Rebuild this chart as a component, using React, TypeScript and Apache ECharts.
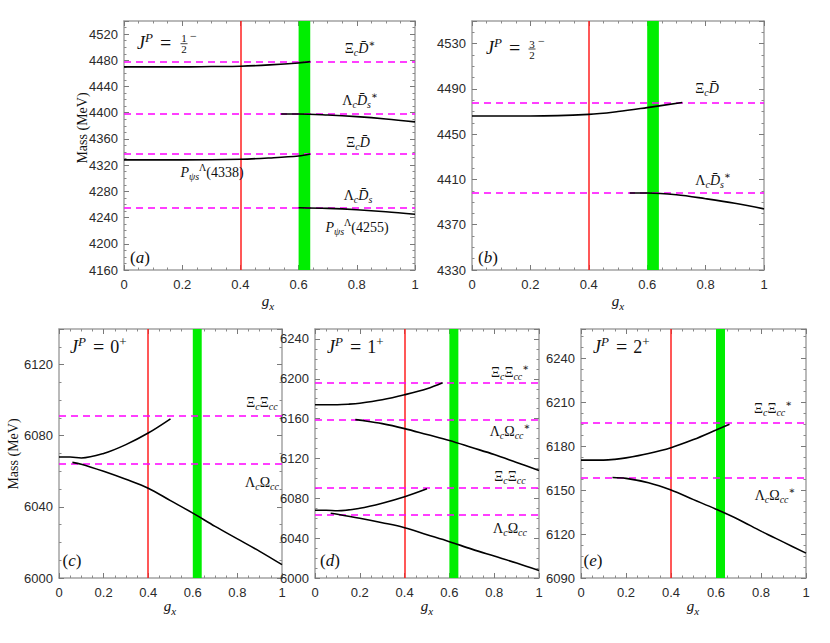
import React, { useEffect, useRef } from "react";
import * as echarts from "echarts";

// ---------------- data ----------------
const xRange = [0, 1];
const xStep = 0.2;
const redLineX = 0.4;
const greenBand = [0.6, 0.64];

// Panel (a) J^P = 1/2^-
const aYAxis = [4160, 4540, 40];
const aThresholds = [4478, 4398, 4337, 4255];
const aCurve1X = [0, 0.1, 0.2, 0.3, 0.4, 0.5, 0.6, 0.64];
const aCurve1Y = [4470, 4470, 4470, 4470.5, 4471, 4473, 4476, 4478];
const aCurve2X = [0.54, 0.6, 0.7, 0.8, 0.9, 1.0];
const aCurve2Y = [4398, 4398, 4396.5, 4394, 4390.5, 4386];
const aCurve3X = [0, 0.2, 0.4, 0.5, 0.6, 0.64];
const aCurve3Y = [4328, 4328, 4329, 4331, 4334, 4337];
const aCurve4X = [0.6, 0.7, 0.8, 0.9, 1.0];
const aCurve4Y = [4255, 4254, 4252, 4249, 4245];

// Panel (b) J^P = 3/2^-
const bYAxis = [4330, 4550, 40];
const bThresholds = [4478, 4398];
const bCurve1X = [0, 0.2, 0.4, 0.5, 0.6, 0.72];
const bCurve1Y = [4466, 4466, 4467.5, 4470, 4473.5, 4478];
const bCurve2X = [0.54, 0.6, 0.7, 0.8, 0.9, 1.0];
const bCurve2Y = [4398, 4398, 4396.5, 4393, 4389, 4384];

// Panel (c) J^P = 0^+
const cYAxis = [6000, 6140, 40];
const cThresholds = [6091, 6064];
const cCurve1X = [0, 0.05, 0.1, 0.2, 0.3, 0.4, 0.5];
const cCurve1Y = [6068, 6068, 6067.5, 6070, 6075, 6081.5, 6089.5];
const cCurve2X = [0.06, 0.1, 0.2, 0.3, 0.4, 0.5, 0.6, 0.7, 0.8, 0.9, 1.0];
const cCurve2Y = [6065, 6064, 6060, 6055.5, 6050.5, 6043.5, 6036.5, 6029, 6022, 6015, 6007.5];

// Panel (d) J^P = 1^+
const dYAxis = [6000, 6250, 40];
const dThresholds = [6196, 6159, 6091, 6064];
const dCurve1X = [0, 0.1, 0.15, 0.2, 0.3, 0.4, 0.5, 0.57];
const dCurve1Y = [6174, 6174, 6174.5, 6175.5, 6179, 6184, 6190, 6196];
const dCurve2X = [0.18, 0.2, 0.3, 0.4, 0.5, 0.6, 0.7, 0.8, 0.9, 1.0];
const dCurve2Y = [6159, 6158.5, 6155, 6150, 6144, 6138, 6131, 6124, 6116, 6108];
const dCurve3X = [0, 0.05, 0.1, 0.2, 0.3, 0.4, 0.5];
const dCurve3Y = [6068, 6068, 6067.5, 6070, 6075, 6081.5, 6089.5];
const dCurve4X = [0.07, 0.1, 0.2, 0.3, 0.4, 0.5, 0.6, 0.7, 0.8, 0.9, 1.0];
const dCurve4Y = [6065, 6064, 6060, 6055.5, 6050.5, 6043.5, 6036.5, 6029, 6022, 6015, 6007.5];

// Panel (e) J^P = 2^+
const eYAxis = [6090, 6260, 30];
const eThresholds = [6196, 6158.6];
const eCurve1X = [0, 0.1, 0.15, 0.2, 0.3, 0.4, 0.5, 0.6, 0.66];
const eCurve1Y = [6170.5, 6170.5, 6171, 6172, 6175, 6179, 6184.5, 6191, 6195];
const eCurve2X = [0.14, 0.2, 0.3, 0.4, 0.5, 0.6, 0.7, 0.8, 0.9, 1.0];
const eCurve2Y = [6158.6, 6158, 6155, 6150, 6143.5, 6137, 6130, 6122, 6114.5, 6107];

// ---------------- helpers ----------------
const SERIF = "'Liberation Serif', 'DejaVu Serif', 'Times New Roman', serif";
const SANS = "'Liberation Sans', Arial, Helvetica, sans-serif";
const TXT = "#111";

const zip = (xs: number[], ys: number[]) => xs.map((x, i) => [x, ys[i]]);

function richStyles(F: number) {
  const LH = Math.round(F * 1.35);
  const S = Math.round(F * 0.7);
  const base = { fontFamily: SERIF, fill: TXT };
  return {
    i: { ...base, fontStyle: "italic", fontSize: F, lineHeight: LH },
    r: { ...base, fontSize: F, lineHeight: LH },
    eq: { ...base, fontSize: F + 2, lineHeight: LH, padding: [0, 6, 0, 7] },
    sb: { ...base, fontStyle: "italic", fontSize: S, lineHeight: S, verticalAlign: "bottom" },
    sp: { ...base, fontSize: S, lineHeight: S, verticalAlign: "top" },
    spi: { ...base, fontStyle: "italic", fontSize: S, lineHeight: S, verticalAlign: "top" },
  };
}

function mt(x: number, y: number, text: string, F: number, align = "center", extra: any = {}) {
  return {
    type: "text",
    x,
    y,
    silent: true,
    z: 100,
    style: {
      text,
      align,
      verticalAlign: "middle",
      fontFamily: SERIF,
      fontSize: F,
      fill: TXT,
      rich: richStyles(F),
    },
    ...extra,
  };
}

const DB = "D\u0304";
const LBL = {
  XiDstar: `{r|Ξ}{sb|c}{i|${DB}}{sp|∗}`,
  XiD: `{r|Ξ}{sb|c}{i|${DB}}`,
  LamDsstar: `{r|Λ}{sb|c}{i|${DB}}{sb|s}{sp|∗}`,
  LamDs: `{r|Λ}{sb|c}{i|${DB}}{sb|s}`,
  XiXicc: `{r|Ξ}{sb|c}{r|Ξ}{sb|cc}`,
  XiXiccstar: `{r|Ξ}{sb|c}{r|Ξ}{sb|cc}{sp|∗}`,
  LamOmcc: `{r|Λ}{sb|c}{r|Ω}{sb|cc}`,
  LamOmccstar: `{r|Λ}{sb|c}{r|Ω}{sb|cc}{sp|∗}`,
  P4338: `{i|P}{sb|ψs}{sp|Λ}{r|(4338)}`,
  P4255: `{i|P}{sb|ψs}{sp|Λ}{r|(4255)}`,
  gx: `{i|g}{sb|x}`,
  mass: `{r|Mass (MeV)}`,
};

const panels = [
  { grid: { left: 124, top: 21, width: 291, height: 249 }, y: aYAxis, thr: aThresholds,
    curves: [zip(aCurve1X, aCurve1Y), zip(aCurve2X, aCurve2Y), zip(aCurve3X, aCurve3Y), zip(aCurve4X, aCurve4Y)] },
  { grid: { left: 472, top: 21, width: 292, height: 249 }, y: bYAxis, thr: bThresholds,
    curves: [zip(bCurve1X, bCurve1Y), zip(bCurve2X, bCurve2Y)] },
  { grid: { left: 59, top: 329, width: 223, height: 249 }, y: cYAxis, thr: cThresholds,
    curves: [zip(cCurve1X, cCurve1Y), zip(cCurve2X, cCurve2Y)] },
  { grid: { left: 315, top: 329, width: 224, height: 249 }, y: dYAxis, thr: dThresholds,
    curves: [zip(dCurve1X, dCurve1Y), zip(dCurve2X, dCurve2Y), zip(dCurve3X, dCurve3Y), zip(dCurve4X, dCurve4Y)] },
  { grid: { left: 581, top: 329, width: 225, height: 249 }, y: eYAxis, thr: eThresholds,
    curves: [zip(eCurve1X, eCurve1Y), zip(eCurve2X, eCurve2Y)] },
];

function buildOption() {
  const grids: any[] = [];
  const xAxes: any[] = [];
  const yAxes: any[] = [];
  const series: any[] = [];

  panels.forEach((p, gi) => {
    grids.push({ ...p.grid, containLabel: false });
    const [yMin, yMax, yStep] = p.y;
    const common = {
      gridIndex: gi,
      type: "value",
      axisLine: { show: true, onZero: false, lineStyle: { color: "#a3a3a3", width: 1.5 } },
      axisTick: { show: true, inside: true, length: 5, lineStyle: { color: "#7a7a7a", width: 1 } },
      minorTick: { show: true, splitNumber: 4, length: 2.5, lineStyle: { color: "#8a8a8a", width: 1 } },
      splitLine: { show: false },
      minorSplitLine: { show: false },
    };
    xAxes.push({
      ...common, position: "bottom", min: xRange[0], max: xRange[1], interval: xStep,
      axisLabel: { show: true, fontFamily: SANS, fontSize: 13, color: "#2a2a2a", margin: 8 },
    });
    xAxes.push({
      ...common, position: "top", min: xRange[0], max: xRange[1], interval: xStep,
      axisLabel: { show: false },
    });
    const fmt = (v: number) => {
      const k = (v - yMin) / yStep;
      return Math.abs(k - Math.round(k)) < 1e-6 ? String(Math.round(v)) : "";
    };
    yAxes.push({
      ...common, position: "left", min: yMin, max: yMax, interval: yStep,
      axisLabel: { show: true, fontFamily: SANS, fontSize: 13, color: "#2a2a2a", margin: 6, formatter: fmt },
    });
    yAxes.push({
      ...common, position: "right", min: yMin, max: yMax, interval: yStep,
      axisLabel: { show: false },
    });

    const xi = gi * 2;
    const yi = gi * 2;
    series.push({
      type: "line",
      xAxisIndex: xi,
      yAxisIndex: yi,
      data: [],
      silent: true,
      z: 1,
      markArea: {
        silent: true,
        itemStyle: { color: "#00ee00", opacity: 1 },
        data: [[{ xAxis: greenBand[0] }, { xAxis: greenBand[1] }]],
      },
      markLine: {
        silent: true,
        symbol: ["none", "none"],
        label: { show: false },
        z: 2,
        data: [
          { xAxis: redLineX, lineStyle: { color: "#ff2020", width: 1.5, type: "solid" } },
          ...p.thr.map((v) => ({ yAxis: v, lineStyle: { color: "#ff00ff", width: 1.5, type: [7, 5] } })),
        ],
      },
    });
    p.curves.forEach((c) => {
      series.push({
        type: "line",
        xAxisIndex: xi,
        yAxisIndex: yi,
        data: c,
        smooth: 0.35,
        showSymbol: false,
        symbol: "none",
        silent: true,
        z: 3,
        lineStyle: { color: "#000", width: 1.6 },
      });
    });
  });

  const g: any[] = [];
  // axis titles
  g.push(mt(82, 128, LBL.mass, 14, "center", { rotation: Math.PI / 2 }));
  g.push(mt(13, 454, LBL.mass, 14, "center", { rotation: Math.PI / 2 }));
  g.push(mt(268, 301, LBL.gx, 15));
  g.push(mt(618, 301, LBL.gx, 15));
  g.push(mt(170, 606, LBL.gx, 15));
  g.push(mt(427, 606, LBL.gx, 15));
  g.push(mt(693, 606, LBL.gx, 15));

  // panel letters
  g.push(mt(140, 257, "{r|(}{i|a}{r|)}", 17));
  g.push(mt(488, 257, "{r|(}{i|b}{r|)}", 17));
  g.push(mt(72, 560, "{r|(}{i|c}{r|)}", 17));
  g.push(mt(330, 560, "{r|(}{i|d}{r|)}", 17));
  g.push(mt(593, 560, "{r|(}{i|e}{r|)}", 17));

  // J^P labels
  const jp = "{i|J}{spi|P}{eq|=}";
  const frac = (x0: number, yc: number, num: string, den: string) => [
    mt(x0, yc - 5.5, `{r|${num}}`, 11),
    { type: "line", silent: true, z: 100, shape: { x1: x0 - 3.5, y1: yc, x2: x0 + 3.5, y2: yc }, style: { stroke: TXT, lineWidth: 0.8 } },
    mt(x0, yc + 5.5, `{r|${den}}`, 11),
    mt(x0 + 9.5, yc - 8, "{r|−}", 12),
  ];
  g.push(mt(137, 43, jp, 18, "left"));
  g.push(...frac(184, 43.7, "1", "2"));
  g.push(mt(486, 48, jp, 18, "left"));
  g.push(...frac(532, 49, "3", "2"));
  g.push(mt(70, 347, "{i|J}{spi|P}{eq|=}{r|0}{sp|+}", 18, "left"));
  g.push(mt(327, 347, "{i|J}{spi|P}{eq|=}{r|1}{sp|+}", 18, "left"));
  g.push(mt(593, 347, "{i|J}{spi|P}{eq|=}{r|2}{sp|+}", 18, "left"));

  // threshold / state labels
  g.push(mt(360, 48, LBL.XiDstar, 14));
  g.push(mt(360, 100, LBL.LamDsstar, 14));
  g.push(mt(358, 142, LBL.XiD, 14));
  g.push(mt(358, 195, LBL.LamDs, 14));
  g.push(mt(212, 172, LBL.P4338, 14));
  g.push(mt(357, 227, LBL.P4255, 14));

  g.push(mt(707, 88, LBL.XiD, 14));
  g.push(mt(713, 180, LBL.LamDsstar, 14));

  g.push(mt(262, 402, LBL.XiXicc, 14));
  g.push(mt(262, 482, LBL.LamOmcc, 14));

  g.push(mt(510, 372, LBL.XiXiccstar, 14));
  g.push(mt(510, 431, LBL.LamOmccstar, 14));
  g.push(mt(510, 476, LBL.XiXicc, 14));
  g.push(mt(510, 528, LBL.LamOmcc, 14));

  g.push(mt(773, 408, LBL.XiXiccstar, 14));
  g.push(mt(775, 495, LBL.LamOmccstar, 14));

  return {
    animation: false,
    backgroundColor: "#fff",
    grid: grids,
    xAxis: xAxes,
    yAxis: yAxes,
    series,
    graphic: g,
  };
}

export default function App() {
  const ref = useRef<HTMLDivElement>(null);
  useEffect(() => {
    document.body.style.margin = "0";
    if (!ref.current) return;
    const chart = echarts.init(ref.current, undefined, { renderer: "svg" });
    chart.setOption(buildOption() as any);
    return () => chart.dispose();
  }, []);
  return <div ref={ref} style={{ width: 830, height: 643 }} />;
}
